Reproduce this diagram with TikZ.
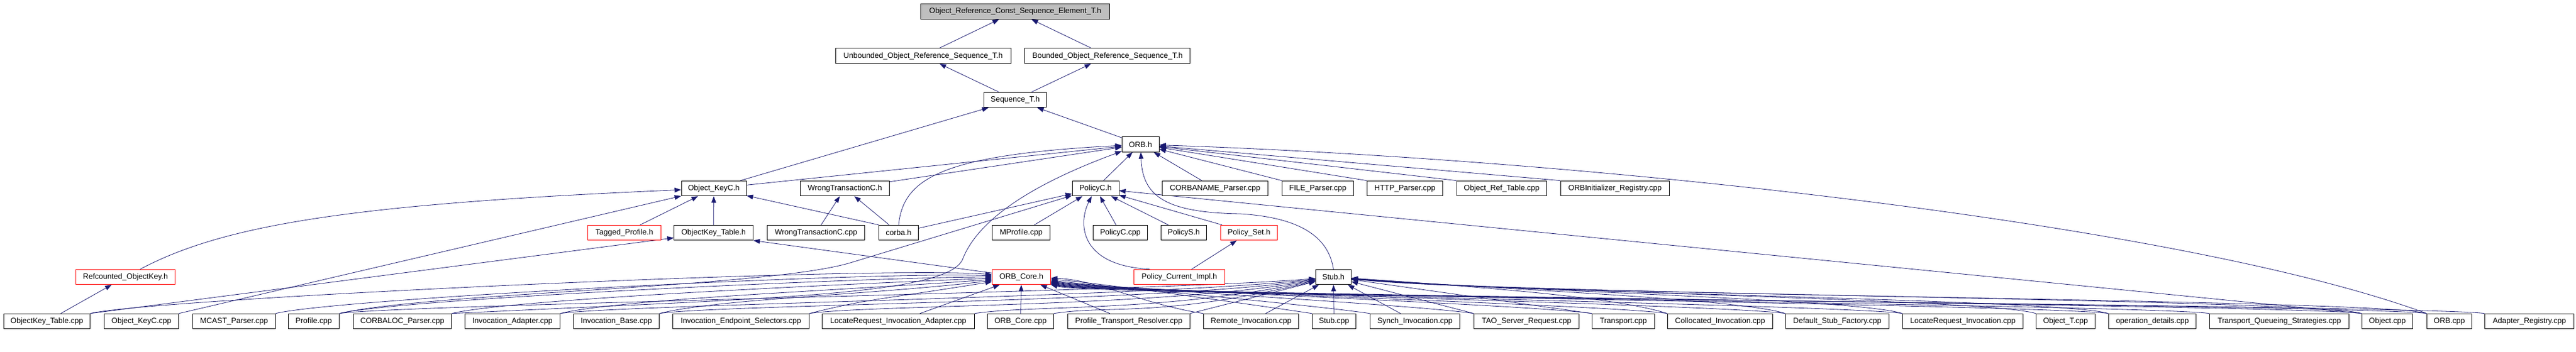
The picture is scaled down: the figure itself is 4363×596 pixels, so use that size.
\documentclass[tikz,border=0pt]{standalone}
\usepackage{fontspec}
\setmainfont{Liberation Sans}
\usetikzlibrary{arrows.meta,calc}
\pgfdeclarelayer{bg}
\pgfsetlayers{bg,main}
\definecolor{edgeblue}{HTML}{191970}
\definecolor{rootgray}{HTML}{BFBFBF}
\definecolor{boxred}{HTML}{FF0000}
\begin{document}
\begin{tikzpicture}[x=1pt,y=-1pt,
  box/.style={draw=black,line width=0.9pt,fill=white,inner sep=0pt,minimum height=25.6pt,font=\fontsize{13pt}{15pt}\selectfont},
  rbox/.style={box,draw=boxred},
  e/.style={draw=edgeblue,line width=0.8pt,-{Triangle[length=11pt,width=8pt]}}]
\useasboundingbox (0,0) rectangle (4363,596);
% row 0
\node[box,fill=rootgray,minimum width=320pt] (root) at (1719.5,19.6) {Object\_Reference\_Const\_Sequence\_Element\_T.h};
% row 1
\node[box,minimum width=297pt] (unb) at (1563.5,94.7) {Unbounded\_Object\_Reference\_Sequence\_T.h};
\node[box,minimum width=280pt] (bnd) at (1875.8,94.7) {Bounded\_Object\_Reference\_Sequence\_T.h};
% row 2
\node[box,minimum width=106pt] (seq) at (1719.4,169) {Sequence\_T.h};
% row 3
\node[box,minimum width=63pt] (orbh) at (1931.7,244.5) {ORB.h};
% row 4
\node[box,minimum width=110pt] (okch) at (1209,319) {Object\_KeyC.h};
\node[box,minimum width=151pt] (wtch) at (1431,319) {WrongTransactionC.h};
\node[box,minimum width=79pt] (policych) at (1855.5,319) {PolicyC.h};
\node[box,minimum width=179pt] (corbaname) at (2058,319) {CORBANAME\_Parser.cpp};
\node[box,minimum width=121pt] (fileparser) at (2232,319) {FILE\_Parser.cpp};
\node[box,minimum width=128pt] (httpparser) at (2379.5,319) {HTTP\_Parser.cpp};
\node[box,minimum width=152pt] (objreftable) at (2543.4,319) {Object\_Ref\_Table.cpp};
\node[box,minimum width=184pt] (orbinit) at (2735.4,319) {ORBInitializer\_Registry.cpp};
% row 5
\node[rbox,minimum width=124pt] (tagged) at (1057.5,394) {Tagged\_Profile.h};
\node[box,minimum width=134pt] (okth) at (1208.6,394) {ObjectKey\_Table.h};
\node[box,minimum width=165pt] (wtccpp) at (1382,394) {WrongTransactionC.cpp};
\node[box,minimum width=67pt] (corbah) at (1522,394) {corba.h};
\node[box,minimum width=98pt] (mprofile) at (1729.6,394) {MProfile.cpp};
\node[box,minimum width=92pt] (policyccpp) at (1897.6,394) {PolicyC.cpp};
\node[box,minimum width=77pt] (policysh) at (2005,394) {PolicyS.h};
\node[rbox,minimum width=96pt] (policyset) at (2115.5,394) {Policy\_Set.h};
% row 6
\node[rbox,minimum width=168pt] (refcounted) at (212.5,469) {Refcounted\_ObjectKey.h};
\node[rbox,minimum width=99pt] (orbcoreh) at (1730,469) {ORB\_Core.h};
\node[rbox,minimum width=154pt] (pcih) at (1997.5,469) {Policy\_Current\_Impl.h};
\node[box,minimum width=60pt] (stubh) at (2258.4,469) {Stub.h};
% row 7
\node[box,minimum width=146pt] (oktcpp) at (79.4,544) {ObjectKey\_Table.cpp};
\node[box,minimum width=126pt] (okccpp) at (239.5,544) {Object\_KeyC.cpp};
\node[box,minimum width=140pt] (mcast) at (396.4,544) {MCAST\_Parser.cpp};
\node[box,minimum width=86pt] (profile) at (531.4,544) {Profile.cpp};
\node[box,minimum width=166.5pt] (corbaloc) at (681.5,544) {CORBALOC\_Parser.cpp};
\node[box,minimum width=161pt] (invadapt) at (868,544) {Invocation\_Adapter.cpp};
\node[box,minimum width=145pt] (invbase) at (1044,544) {Invocation\_Base.cpp};
\node[box,minimum width=231pt] (inves) at (1255,544) {Invocation\_Endpoint\_Selectors.cpp};
\node[box,minimum width=258pt] (lria) at (1521.3,544) {LocateRequest\_Invocation\_Adapter.cpp};
\node[box,minimum width=112pt] (orbcorecpp) at (1728.4,544) {ORB\_Core.cpp};
\node[box,minimum width=207pt] (ptr) at (1911.9,544) {Profile\_Transport\_Resolver.cpp};
\node[box,minimum width=161pt] (remote) at (2119,544) {Remote\_Invocation.cpp};
\node[box,minimum width=74pt] (stubcpp) at (2259.4,544) {Stub.cpp};
\node[box,minimum width=152pt] (synch) at (2396.5,544) {Synch\_Invocation.cpp};
\node[box,minimum width=178pt] (taosr) at (2585.5,544) {TAO\_Server\_Request.cpp};
\node[box,minimum width=106pt] (transport) at (2749.4,544) {Transport.cpp};
\node[box,minimum width=178pt] (colloc) at (2913.4,544) {Collocated\_Invocation.cpp};
\node[box,minimum width=175pt] (dsf) at (3111.8,544) {Default\_Stub\_Factory.cpp};
\node[box,minimum width=204pt] (lri) at (3324.6,544) {LocateRequest\_Invocation.cpp};
\node[box,minimum width=100pt] (objtcpp) at (3498.4,544) {Object\_T.cpp};
\node[box,minimum width=148pt] (opdet) at (3645.5,544) {operation\_details.cpp};
\node[box,minimum width=236pt] (tqs) at (3860.6,544) {Transport\_Queueing\_Strategies.cpp};
\node[box,minimum width=86pt] (objectcpp) at (4043.5,544) {Object.cpp};
\node[box,minimum width=76pt] (orbcpp) at (4148.5,544) {ORB.cpp};
\node[box,minimum width=151pt] (adapter) at (4284,544) {Adapter\_Registry.cpp};

\begin{pgfonlayer}{bg}
% upper part
\draw[e] (unb) -- (root);
\draw[e] (bnd) -- (root);
\draw[e] (seq) -- (unb);
\draw[e] (seq) -- (bnd);
\draw[e] (orbh) -- (seq);
\draw[e] (okch) -- (seq);
\draw[e] (okch) -- (orbh);
\draw[e] (wtch) -- (orbh);
\draw[e] (corbah.north) .. controls (1530,300) and (1600,262) .. (orbh);
\draw[e] (corbah.north west) -- (okch);
\draw[e] (corbah) -- (wtch);
\draw[e] (corbah) -- (policych);
\draw[e] (policych) -- (orbh);
\draw[e] (corbaname) -- (orbh);
\draw[e] (fileparser.north west) -- (orbh);
\draw[e] (httpparser.north west) -- (orbh);
\draw[e] (objreftable.north west) -- (orbh);
\draw[e] (orbinit.north west) -- (orbh);
\draw[e] (orbcpp.north west) .. controls (3700,380) and (2700,270) .. (orbh);
\draw[e] (stubh.north) .. controls (2250,400) and (2200,368) .. (2100,362) .. controls (1970,360) and (1935,330) .. (orbh);
\draw[e] (tagged) -- (okch);
\draw[e] (okth) -- (okch);
\draw[e] (wtccpp) -- (wtch);
\draw[e] (mprofile) -- (policych);
\draw[e] (policyccpp) -- (policych);
\draw[e] (policysh) -- (policych);
\draw[e] (policyset) -- (policych);
\draw[e] ($(pcih.north)+(-50,0)$) .. controls (1830,450) and (1825,380) .. (policych);
\draw[e] (pcih) -- (policyset);
\draw[e] ($(refcounted.north)+(25,0)$) .. controls (380,380) and (600,345) .. (okch);
\draw[e] (oktcpp) -- (refcounted);
\draw[e] (oktcpp.north east) -- (okth);
\draw[e] (okccpp.north east) -- (okch);
\draw[e] (orbcoreh) -- (okth.south east);
\draw[e] (profile.north east) .. controls +(150,-35) and (1300,487) .. (1440,445) -- (policych);
\draw[e] (corbaloc.north east) .. controls (1300,505) and (1600,500) .. (1630,440) .. controls (1660,360) and (1780,300) .. (orbh);
\draw[e] (objectcpp.north west) -- (policych);
% left sources -> ORB_Core.h
\foreach \s/\d in {oktcpp/-20,mcast/-10,profile/0,corbaloc/10,invadapt/20,invbase/30,inves/40}
  \draw[e] (\s.north east) .. controls +(100,-25) and +(-250,\d) .. (orbcoreh);
\draw[e] (lria) -- (orbcoreh);
\draw[e] (orbcorecpp) -- (orbcoreh);
\draw[e] (ptr) -- (orbcoreh);
% right sources -> ORB_Core.h
\foreach \s/\d in {remote/5,stubcpp/10,synch/15,taosr/18,transport/20,colloc/22,dsf/24,lri/26,opdet/28,tqs/30,objectcpp/30,orbcpp/32,adapter/34}
  \draw[e] (\s.north west) .. controls +(-100,-15) and +(130,\d) .. (orbcoreh);
% left sources -> Stub.h
\foreach \s/\d in {profile/25,invadapt/34,invbase/43,inves/52,lria/61,orbcorecpp/70}
  \draw[e] (\s.north east) .. controls +(100,-15) and +(-300,\d) .. (stubh);
\draw[e] (ptr.north east) -- (stubh);
\draw[e] (remote) -- (stubh);
\draw[e] (stubcpp) -- (stubh);
\draw[e] (synch) -- (stubh);
\draw[e] (taosr.north west) -- (stubh);
\draw[e] (transport.north west) -- (stubh);
\foreach \s/\d in {colloc/20,dsf/22,lri/24,objtcpp/26,opdet/28,objectcpp/30,orbcpp/32}
  \draw[e] (\s.north west) .. controls +(-80,-25) and +(300,\d) .. (stubh);
\end{pgfonlayer}
\end{tikzpicture}
\end{document}
